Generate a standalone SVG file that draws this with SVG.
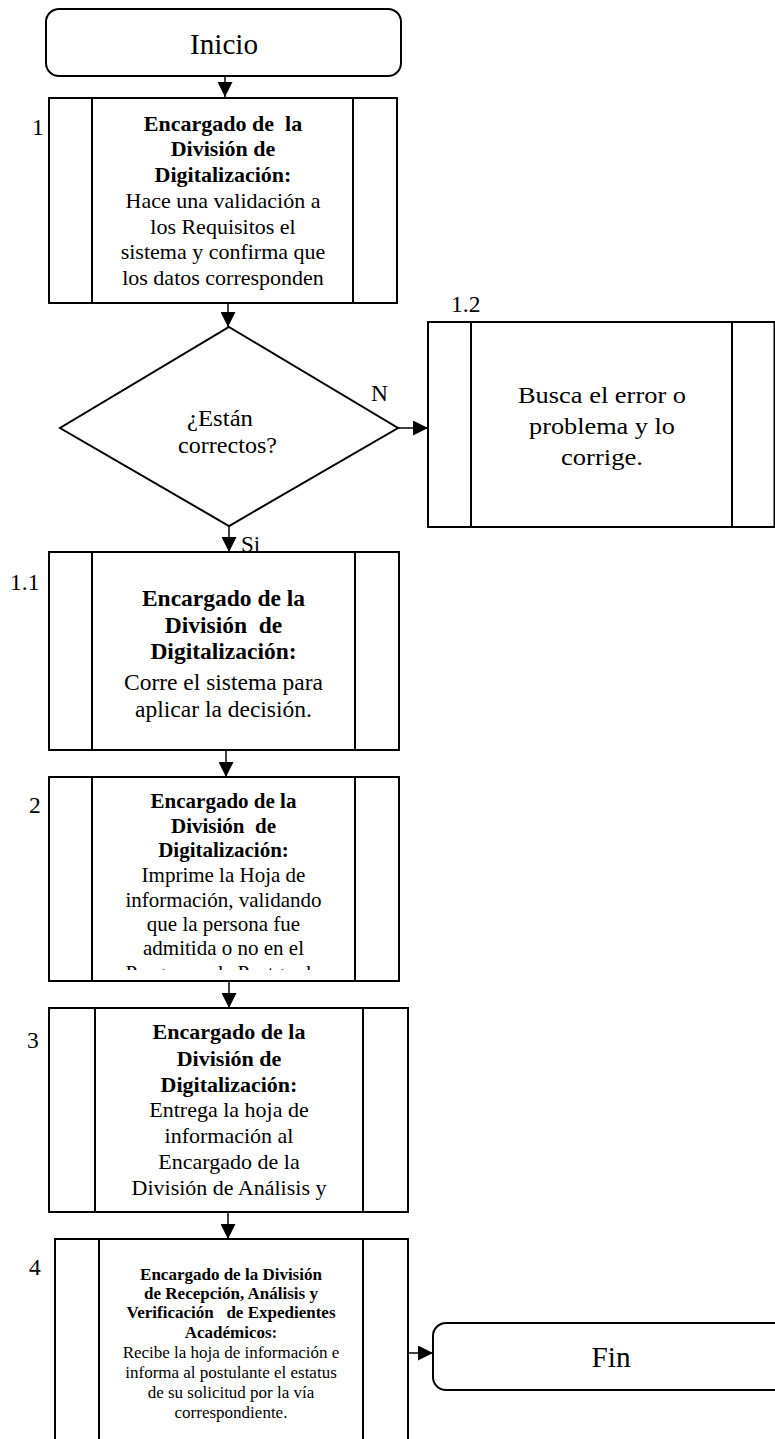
<svg xmlns="http://www.w3.org/2000/svg" width="775" height="1439" viewBox="0 0 775 1439">
<style>
.box{fill:#fff;stroke:#000;stroke-width:2}
.ln{stroke:#000;stroke-width:2;fill:none}
.con{stroke:#000;stroke-width:1.5;fill:none}
text{font-family:"Liberation Serif","Times New Roman",serif;fill:#000}
.c{text-anchor:middle}
.b{font-weight:bold}
.lbl{font-size:23.5px}
.big{font-size:23.9px}
</style>
<defs>
<marker id="ah" markerUnits="userSpaceOnUse" markerWidth="15" markerHeight="15" viewBox="0 0 14 14" refX="14" refY="7" orient="auto">
<path d="M0,0 L14,7 L0,14 z" fill="#000"/>
</marker>
<clipPath id="clip2"><rect x="92" y="777" width="263" height="193"/></clipPath>
</defs>
<rect width="775" height="1439" fill="#fff"/>

<g id="connectors">
<line class="con" x1="225" y1="76" x2="225" y2="97" marker-end="url(#ah)"/>
<line class="con" x1="228" y1="303" x2="228" y2="327" marker-end="url(#ah)"/>
<line class="con" x1="398" y1="428" x2="428" y2="428" marker-end="url(#ah)"/>
<line class="con" x1="229" y1="526" x2="229" y2="552" marker-end="url(#ah)"/>
<line class="con" x1="226" y1="750" x2="226" y2="777" marker-end="url(#ah)"/>
<line class="con" x1="229" y1="981" x2="229" y2="1008" marker-end="url(#ah)"/>
<line class="con" x1="228" y1="1212" x2="228" y2="1239" marker-end="url(#ah)"/>
<line class="con" x1="408" y1="1353" x2="433" y2="1353" marker-end="url(#ah)"/>
</g>

<g id="inicio">
<rect class="box" x="46" y="9" width="355" height="67" rx="13"/>
<text class="c big" x="0" y="0" textLength="68" lengthAdjust="spacingAndGlyphs" transform="translate(224,54) scale(1,1.2)">Inicio</text>
</g>

<g id="step1">
<rect class="box" x="49" y="98" width="348" height="205"/>
<line class="ln" x1="92" y1="98" x2="92" y2="303"/>
<line class="ln" x1="353" y1="98" x2="353" y2="303"/>
<text class="lbl" x="32" y="135">1</text>
<g font-size="22">
<text class="c b" x="223" y="131" xml:space="preserve">Encargado de  la</text>
<text class="c b" x="223" y="156">División de</text>
<text class="c b" x="223" y="182">Digitalización:</text>
<text class="c" x="223" y="208">Hace una validación a</text>
<text class="c" x="223" y="234">los Requisitos el</text>
<text class="c" x="223" y="259">sistema y confirma que</text>
<text class="c" x="223" y="285">los datos corresponden</text>
</g>
</g>

<g id="decision">
<polygon class="box" points="229,327 398,428 229,526 60,428"/>
<text class="big" x="187" y="426" textLength="66" lengthAdjust="spacingAndGlyphs">¿Están</text>
<text class="big" x="178" y="453" textLength="99" lengthAdjust="spacingAndGlyphs">correctos?</text>
<text x="371" y="401" font-size="23.5">N</text>
<text x="241" y="552" font-size="23">Si</text>
</g>

<g id="step1_2">
<rect class="box" x="428" y="322" width="346.5" height="205"/>
<line class="ln" x1="471" y1="322" x2="471" y2="527"/>
<line class="ln" x1="732" y1="322" x2="732" y2="527"/>
<text class="lbl" x="451" y="312">1.2</text>
<text class="c big" x="602" y="403" textLength="168" lengthAdjust="spacingAndGlyphs">Busca el error o</text>
<text class="c big" x="602" y="434" textLength="146" lengthAdjust="spacingAndGlyphs">problema y lo</text>
<text class="c big" x="602" y="465" textLength="82" lengthAdjust="spacingAndGlyphs">corrige.</text>
</g>

<g id="step1_1">
<rect class="box" x="49" y="552" width="350" height="198"/>
<line class="ln" x1="92" y1="552" x2="92" y2="750"/>
<line class="ln" x1="355" y1="552" x2="355" y2="750"/>
<text class="lbl" x="10" y="590">1.1</text>
<g font-size="23.5">
<text class="c b" x="223.5" y="606">Encargado de la</text>
<text class="c b" x="223.5" y="633" xml:space="preserve">División  de</text>
<text class="c b" x="223.5" y="659">Digitalización:</text>
<text class="c" x="223.5" y="690">Corre el sistema para</text>
<text class="c" x="223.5" y="717">aplicar la decisión.</text>
</g>
</g>

<g id="step2">
<rect class="box" x="49" y="777" width="350" height="204"/>
<line class="ln" x1="92" y1="777" x2="92" y2="981"/>
<line class="ln" x1="355" y1="777" x2="355" y2="981"/>
<text class="lbl" x="29" y="813">2</text>
<g font-size="21" clip-path="url(#clip2)">
<text class="c b" x="223.5" y="808">Encargado de la</text>
<text class="c b" x="223.5" y="833" xml:space="preserve">División  de</text>
<text class="c b" x="223.5" y="857">Digitalización:</text>
<text class="c" x="223.5" y="882">Imprime la Hoja de</text>
<text class="c" x="223.5" y="907">información, validando</text>
<text class="c" x="223.5" y="931">que la persona fue</text>
<text class="c" x="223.5" y="955">admitida o no en el</text>
<text class="c" x="223.5" y="980">Programa de Postgrado</text>
</g>
</g>

<g id="step3">
<rect class="box" x="49" y="1008" width="359" height="204"/>
<line class="ln" x1="95" y1="1008" x2="95" y2="1212"/>
<line class="ln" x1="363" y1="1008" x2="363" y2="1212"/>
<text class="lbl" x="27" y="1048">3</text>
<g font-size="22">
<text class="c b" x="229" y="1039">Encargado de la</text>
<text class="c b" x="229" y="1066">División de</text>
<text class="c b" x="229" y="1092">Digitalización:</text>
<text class="c" x="229" y="1117">Entrega la hoja de</text>
<text class="c" x="229" y="1143">información al</text>
<text class="c" x="229" y="1169">Encargado de la</text>
<text class="c" x="229" y="1195">División de Análisis y</text>
</g>
</g>

<g id="step4">
<rect class="box" x="55" y="1239" width="353" height="220"/>
<line class="ln" x1="99" y1="1239" x2="99" y2="1459"/>
<line class="ln" x1="363" y1="1239" x2="363" y2="1459"/>
<text class="lbl" x="29" y="1275">4</text>
<g font-size="17">
<text class="c b" x="231" y="1280">Encargado de la División</text>
<text class="c b" x="231" y="1299">de Recepción, Análisis y</text>
<text class="c b" x="231" y="1318" xml:space="preserve">Verificación   de Expedientes</text>
<text class="c b" x="231" y="1338">Académicos:</text>
<text class="c" x="231" y="1358">Recibe la hoja de información e</text>
<text class="c" x="231" y="1378">informa al postulante el estatus</text>
<text class="c" x="231" y="1398">de su solicitud por la vía</text>
<text class="c" x="231" y="1418">correspondiente.</text>
</g>
</g>

<g id="fin">
<rect class="box" x="433" y="1323" width="356" height="67" rx="13"/>
<text class="c big" x="0" y="0" textLength="39" lengthAdjust="spacingAndGlyphs" transform="translate(611,1367) scale(1,1.2)">Fin</text>
</g>
</svg>
